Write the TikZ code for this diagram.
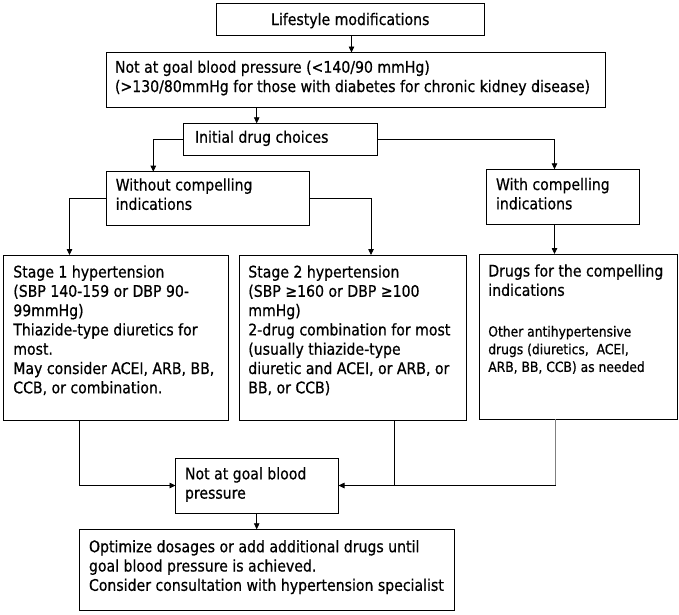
\documentclass[tikz,border=0pt]{standalone}
\usepackage{fontspec}
\setmainfont{DejaVu Sans}[FakeStretch=0.88,FakeBold=0.6]
\usetikzlibrary{arrows.meta,calc}
\newcommand\bigf{\fontsize{16}{19.3}\selectfont}
\newcommand\smallf{\fontsize{14}{17.7}\selectfont}
\newcommand\fs{\rule{0pt}{13pt}}
\begin{document}
\begin{tikzpicture}[x=1pt,y=-1pt,
  bx/.style={draw=black,line width=0.8pt,rectangle,anchor=north west,inner sep=0pt,outer sep=0pt},
  txt/.style={anchor=north west,inner sep=0pt,outer sep=0pt,align=left,font=\bigf,text=black},
  stxt/.style={anchor=north west,inner sep=0pt,outer sep=0pt,align=left,font=\smallf,text=black},
  ln/.style={draw=black,line width=0.8pt},
  arr/.style={ln,-{Triangle[length=6pt,width=5.5pt]}},
  gln/.style={draw=black!50,line width=1.3pt}]
\useasboundingbox[fill=white] (0,0) rectangle (679,614);
% boxes
\node[bx,minimum width=268.5pt,minimum height=32.2pt] (life) at (216,3.5) {};
\node[bx,minimum width=499pt,minimum height=54.8pt] (goal) at (106,52.5) {};
\node[bx,minimum width=193.5pt,minimum height=31.7pt] (init) at (183.5,123.3) {};
\node[bx,minimum width=203pt,minimum height=54pt] (without) at (106,171.7) {};
\node[bx,minimum width=153.3pt,minimum height=54.7pt] (with) at (486,169.3) {};
\node[bx,minimum width=225.2pt,minimum height=165.5pt] (stage1) at (3.5,255) {};
\node[bx,minimum width=226.5pt,minimum height=165pt] (stage2) at (239.5,255) {};
\node[bx,minimum width=198pt,minimum height=165pt] (drugs) at (479,254) {};
\node[bx,minimum width=163pt,minimum height=55pt] (goal2) at (175.5,458) {};
\node[bx,minimum width=374.5pt,minimum height=81.2pt] (optim) at (79.5,529.3) {};
% texts (anchor at first-line top = baseline - 13)
\node[txt,anchor=base] (life-t) at ($(life.north)+(0,21.5)$) {Lifestyle modifications};
\node[txt] (goal-t) at (115,59.7) {\fs Not at goal blood pressure (<140/90 mmHg)\\(>130/80mmHg for those with diabetes for chronic kidney disease)};
\node[txt] (init-t) at (195,129.7) {\fs Initial drug choices};
\node[txt] (without-t) at (115.7,177.5) {\fs Without compelling\\indications};
\node[txt] (with-t) at (496,177) {\fs With compelling\\indications};
\node[txt] (stage1-t) at (13.3,264.5) {\fs Stage 1 hypertension\\(SBP 140-159 or DBP 90-\\99mmHg)\\Thiazide-type diuretics for\\most.\\May consider ACEI, ARB, BB,\\CCB, or combination.};
\node[txt] (stage2-t) at (248.3,264.5) {\fs Stage 2 hypertension\\(SBP ≥160 or DBP ≥100\\mmHg)\\2-drug combination for most\\(usually thiazide-type\\diuretic and ACEI, or ARB, or\\BB, or CCB)};
\node[txt] (drugs-t) at (488.3,263.5) {\fs Drugs for the compelling\\indications};
\node[stxt] (drugs-s) at (488.3,325) {\rule{0pt}{11.5pt}Other antihypertensive\\drugs (diuretics,~ ACEI,\\ARB, BB, CCB) as needed};
\node[txt] (goal2-t) at (185,466.3) {\fs Not at goal blood\\pressure};
\node[txt] (optim-t) at (89,539.2) {\fs Optimize dosages or add additional drugs until\\goal blood pressure is achieved.\\Consider consultation with hypertension specialist};
% connector x positions
\coordinate (cxA) at (256.7,0);
\coordinate (cxB) at (153.3,0);
\coordinate (cxC) at (554.5,0);
\coordinate (cxD) at (69.5,0);
\coordinate (cxE) at (371,0);
\coordinate (cxF) at (79,0);
\coordinate (cxG) at (394.5,0);
\coordinate (cxH) at (555.5,0);
\coordinate (cxL) at (351.5,0);
% connectors
\draw[arr] (cxL |- life.south) -- (cxL |- goal.north);
\draw[arr] (cxA |- goal.south) -- (cxA |- init.north);
\draw[arr] (init.west) -| (cxB |- without.north);
\draw[arr] (init.east) -| (cxC |- with.north);
\draw[arr] (cxC |- with.south) -- (cxC |- drugs.north);
\draw[arr] (without.west) -| (cxD |- stage1.north);
\draw[arr] (without.east) -| (cxE |- stage2.north);
\draw[arr] (cxF |- stage1.south) |- (goal2.west);
\draw[ln] (cxG |- stage2.south) -- (cxG |- goal2.east);
\draw[gln] (cxH |- drugs.south) -- (cxH |- goal2.east);
\draw[arr] (cxH |- goal2.east) -- (goal2.east);
\draw[arr] (cxA |- goal2.south) -- (cxA |- optim.north);
\end{tikzpicture}
\end{document}
